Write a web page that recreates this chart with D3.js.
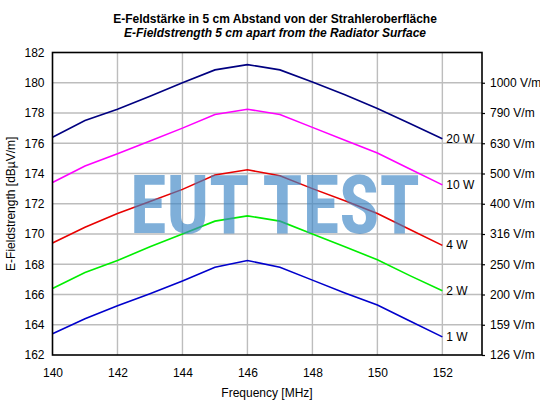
<!DOCTYPE html>
<html>
<head>
<meta charset="utf-8">
<script src="https://cdn.jsdelivr.net/npm/d3@7"></script>
<style>
  body { margin: 0; background: #fff; }
  text { font-family: "Liberation Sans", Arial, sans-serif; }
</style>
</head>
<body>
<div id="chart"></div>
<script>
// frequencies in MHz
var freqs = [140, 141, 142, 143, 144, 145, 146, 147, 148, 149, 150, 151, 152];

// field strength in dBuV/m per transmitter power
var p20W = [176.4, 177.5, 178.25, 179.1, 180.0, 180.85, 181.2, 180.85, 180.05, 179.2, 178.3, 177.3, 176.3];
var p10W = [173.4, 174.5, 175.3, 176.15, 177.0, 177.9, 178.25, 177.9, 177.05, 176.2, 175.35, 174.3, 173.25];
var p4W  = [169.4, 170.45, 171.35, 172.15, 172.95, 173.9, 174.25, 173.85, 173.0, 172.2, 171.35, 170.3, 169.25];
var p2W  = [166.4, 167.45, 168.25, 169.15, 170.0, 170.85, 171.2, 170.85, 170.0, 169.15, 168.3, 167.25, 166.25];
var p1W  = [163.4, 164.4, 165.25, 166.05, 166.9, 167.8, 168.25, 167.8, 166.95, 166.1, 165.3, 164.25, 163.2];

var seriesNames = ["20 W", "10 W", "4 W", "2 W", "1 W"];
var seriesColors = ["#000080", "#ff00ff", "#e80000", "#00ee00", "#0000cc"];

var xTicks = [140, 142, 144, 146, 148, 150, 152];
var yTicks = [162, 164, 166, 168, 170, 172, 174, 176, 178, 180, 182];
var vmTicks = [126, 159, 200, 250, 316, 400, 500, 630, 790, 1000];

var W = 540, H = 407;
var margin = {left: 52.5, right: 58, top: 52.5, bottom: 52};

var svg = d3.select("#chart").append("svg")
    .attr("width", W)
    .attr("height", H);

var x = d3.scaleLinear().domain([140, 153.22]).range([margin.left, W - margin.right]);
var y = d3.scaleLinear().domain([162, 182]).range([H - margin.bottom, margin.top]);

// titles
svg.append("text")
    .attr("x", 275).attr("y", 23)
    .attr("text-anchor", "middle")
    .style("font-size", "12px").style("font-weight", "bold")
    .text("E-Feldstärke in 5 cm Abstand von der Strahleroberfläche");
svg.append("text")
    .attr("x", 275).attr("y", 37)
    .attr("text-anchor", "middle")
    .style("font-size", "12px").style("font-weight", "bold").style("font-style", "italic")
    .text("E-Fieldstrength 5 cm apart from the Radiator Surface");

// grid
var grid = svg.append("g");
grid.selectAll("line.v").data(xTicks.slice(1)).enter().append("line")
    .attr("x1", d => x(d)).attr("x2", d => x(d))
    .attr("y1", y(182)).attr("y2", y(162))
    .style("stroke", "#bdbdbd").style("stroke-width", 1.4);
grid.selectAll("line.h").data(yTicks.slice(1, -1)).enter().append("line")
    .attr("x1", x(140)).attr("x2", x(153.22))
    .attr("y1", d => y(d)).attr("y2", d => y(d))
    .style("stroke", "#bdbdbd").style("stroke-width", 1.4);

// series lines
var allSeries = [p20W, p10W, p4W, p2W, p1W];
var line = d3.line()
    .x((d, i) => x(freqs[i]))
    .y(d => y(d));

svg.selectAll("path.series").data(allSeries).enter().append("path")
    .attr("class", "series")
    .attr("d", d => line(d))
    .style("fill", "none")
    .style("stroke", (d, i) => seriesColors[i])
    .style("stroke-width", 1.6);

// line labels
svg.selectAll("text.lbl").data(allSeries).enter().append("text")
    .attr("x", x(152) + 4)
    .attr("y", d => y(d[d.length - 1]) + 4)
    .style("font-size", "12px")
    .text((d, i) => seriesNames[i]);

// watermark, squeezed horizontally to fit its width
var wm = svg.append("text")
    .attr("x", 0).attr("y", 0)
    .style("font-family", "'Roboto Condensed', 'Liberation Sans Narrow', 'DejaVu Sans Condensed', sans-serif")
    .style("font-size", "82px")
    .style("font-weight", "bold")
    .style("fill", "#3d85c6")
    .style("fill-opacity", 0.66)
    .text("EUT TEST");
var wmScale = 290 / wm.node().getComputedTextLength();
wm.attr("transform", "translate(130,233) scale(" + wmScale + ",1)");

// frame
svg.append("rect")
    .attr("x", x(140)).attr("y", y(182))
    .attr("width", x(153.22) - x(140)).attr("height", y(162) - y(182))
    .style("fill", "none").style("stroke", "#000").style("stroke-width", 1.6);

// axes
var xAxis = svg.append("g")
    .attr("transform", "translate(0," + y(162) + ")")
    .call(d3.axisBottom(x).tickValues(xTicks).tickSize(0).tickPadding(13));
var yAxis = svg.append("g")
    .attr("transform", "translate(" + x(140) + ",0)")
    .call(d3.axisLeft(y).tickValues(yTicks).tickSize(0).tickPadding(8));
var rAxis = svg.append("g")
    .attr("transform", "translate(" + x(153.22) + ",0)")
    .call(d3.axisRight(y).tickValues(d3.range(162, 181, 2))
      .tickFormat((d, i) => vmTicks[i] + " V/m").tickSize(3).tickPadding(5));

[xAxis, yAxis, rAxis].forEach(function(a) {
  a.select(".domain").remove();
  a.selectAll("text").style("font-size", "12px")
      .style("font-family", "'Liberation Sans', Arial, sans-serif").attr("fill", "#000");
  a.selectAll("line").style("stroke", "#000").style("stroke-width", 1.2);
});

// axis titles
svg.append("text")
    .attr("x", 267).attr("y", 397)
    .attr("text-anchor", "middle")
    .style("font-size", "12px")
    .text("Frequency [MHz]");
svg.append("text")
    .attr("transform", "translate(15," + y(172) + ") rotate(-90)")
    .attr("text-anchor", "middle")
    .style("font-size", "12px")
    .text("E-Fieldstrength [dBµV/m]");
</script>
</body>
</html>
